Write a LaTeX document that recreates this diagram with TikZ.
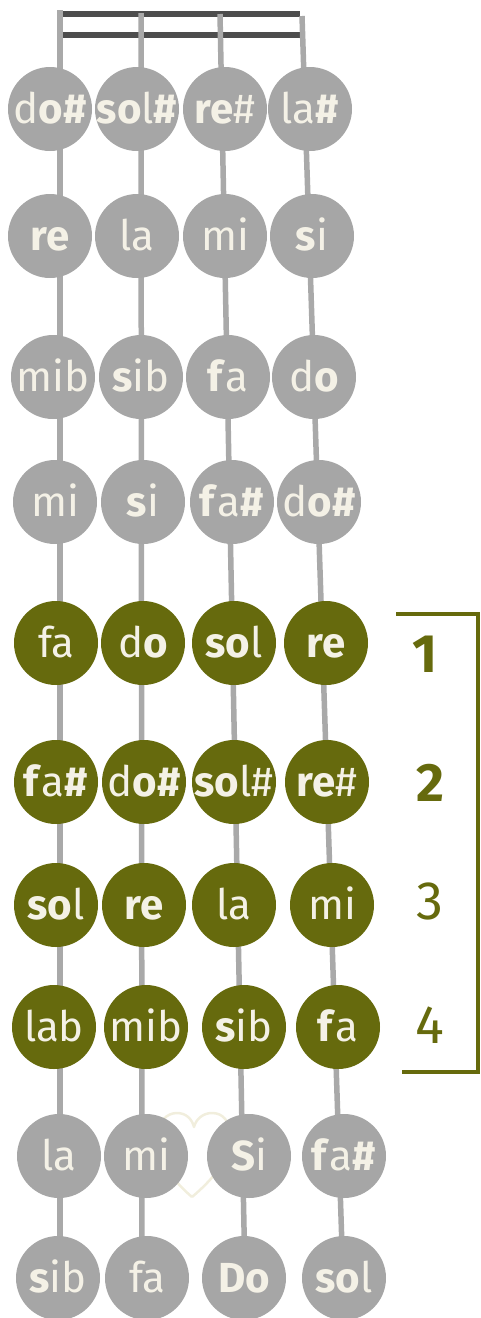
\documentclass[tikz,border=0pt]{standalone}
\usepackage{fontspec}
\setmainfont{Fira Sans}
\definecolor{notegray}{HTML}{A6A6A6}
\definecolor{stringgray}{HTML}{A9A9A9}
\definecolor{nutgray}{HTML}{4D4D4D}
\definecolor{fret}{HTML}{666A0D}
\definecolor{cream}{HTML}{F4F1E6}
\definecolor{heartc}{HTML}{F1EEDD}
\newcommand{\bl}[1]{\textbf{#1}}
\tikzset{
  note/.style={circle, minimum size=84pt, inner sep=0pt, draw=none},
  gnote/.style={note, fill=notegray},
  onote/.style={note, fill=fret},
  lab/.style={anchor=base, text=cream, inner sep=0pt, font=\fontsize{42}{42}\selectfont},
  stringline/.style={draw=stringgray, line width=5.5pt},
  nutline/.style={draw=nutgray, line width=6pt},
  finger/.style={text=fret, inner sep=0pt, font=\fontsize{54}{54}\selectfont},
}
\newcommand{\notenode}[5]{\node[#2] (#1) at (#3,#4) {};
  \node[lab] (#1t) at ([yshift=-14pt]#1.center) {#5};}
\begin{document}
\begin{tikzpicture}[x=1pt,y=-1pt]
\useasboundingbox (0,0) rectangle (480,1318);
% heart
\draw[heartc, line width=2.5pt, line join=round]
  (192,1197) .. controls (172,1180) and (158,1160) .. (158,1136)
  .. controls (158,1121) and (167,1113) .. (177,1113)
  .. controls (186,1113) and (192,1119) .. (194,1127)
  .. controls (196,1119) and (203,1113) .. (212,1113)
  .. controls (223,1113) and (230,1121) .. (230,1136)
  .. controls (230,1160) and (212,1180) .. (192,1197);
% nut
\coordinate (nA) at (63,14); \coordinate (nB) at (300,14);
\coordinate (nC) at (63,35); \coordinate (nD) at (300,35);
\draw[nutline] (nA) -- (nB);
\draw[nutline] (nC) -- (nD);
% strings
\coordinate (s1t) at (60,10);  \coordinate (s1b) at (60,1278);
\coordinate (s2t) at (141,13); \coordinate (s2b) at (142,1278);
\coordinate (s3t) at (220,14); \coordinate (s3b) at (245,1278);
\coordinate (s4t) at (302,16); \coordinate (s4b) at (343,1278);
\draw[stringline] (s1t) -- (s1b);
\draw[stringline] (s2t) -- (s2b);
\draw[stringline] (s3t) -- (s3b);
\draw[stringline] (s4t) -- (s4b);
% row 1
\notenode{a1}{gnote}{50}{109}{d\bl{o\#}}
\notenode{a2}{gnote}{137}{109}{\bl{so}l\bl{\#}}
\notenode{a3}{gnote}{225}{109}{\bl{re}\#}
\notenode{a4}{gnote}{310}{109}{la\bl{\#}}
% row 2
\notenode{b1}{gnote}{50}{236}{\bl{re}}
\notenode{b2}{gnote}{137}{236}{la}
\notenode{b3}{gnote}{225}{236}{mi}
\notenode{b4}{gnote}{312}{236}{\bl{s}i}
% row 3
\notenode{c1}{gnote}{53}{377}{mib}
\notenode{c2}{gnote}{141}{377}{\bl{s}ib}
\notenode{c3}{gnote}{228}{377}{\bl{f}a}
\notenode{c4}{gnote}{314}{377}{d\bl{o}}
% row 4
\notenode{d1}{gnote}{55}{502}{mi}
\notenode{d2}{gnote}{143}{502}{\bl{s}i}
\notenode{d3}{gnote}{232}{502}{\bl{f}a\bl{\#}}
\notenode{d4}{gnote}{319}{502}{d\bl{o\#}}
% row 5
\notenode{e1}{onote}{56}{643}{fa}
\notenode{e2}{onote}{143}{643}{d\bl{o}}
\notenode{e3}{onote}{234}{643}{\bl{so}l}
\notenode{e4}{onote}{326}{643}{\bl{re}}
% row 6
\notenode{f1}{onote}{56}{782}{\bl{f}a\bl{\#}}
\notenode{f2}{onote}{144}{782}{d\bl{o\#}}
\notenode{f3}{onote}{234}{782}{\bl{so}l\#}
\notenode{f4}{onote}{327}{782}{\bl{re}\#}
% row 7
\notenode{g1}{onote}{56}{905}{\bl{so}l}
\notenode{g2}{onote}{144}{905}{\bl{re}}
\notenode{g3}{onote}{234}{905}{la}
\notenode{g4}{onote}{332}{905}{mi}
% row 8
\notenode{h1}{onote}{54}{1027}{lab}
\notenode{h2}{onote}{146}{1027}{mib}
\notenode{h3}{onote}{244}{1027}{\bl{s}ib}
\notenode{h4}{onote}{338}{1027}{\bl{f}a}
% row 9
\notenode{i1}{gnote}{59}{1156}{la}
\notenode{i2}{gnote}{146}{1156}{mi}
\notenode{i3}{gnote}{249}{1156}{\bl{S}i}
\notenode{i4}{gnote}{344}{1156}{\bl{f}a\bl{\#}}
% row 10
\notenode{j1}{gnote}{58}{1278}{\bl{s}ib}
\notenode{j2}{gnote}{147}{1278}{fa}
\notenode{j3}{gnote}{244}{1278}{\bl{Do}}
\notenode{j4}{gnote}{344}{1278}{\bl{so}l}
% bracket
\coordinate (k1) at (396,614); \coordinate (k2) at (478,614);
\coordinate (k3) at (478,1072); \coordinate (k4) at (402,1072);
\draw[fret, line width=4.5pt, line join=miter] (k1) -- (k2) -- (k3) -- (k4);
% finger numbers
\node[finger] (n1) at (425,654) {\bl{1}};
\node[finger] (n2) at (430,783) {\bl{2}};
\node[finger] (n3) at (430,901) {3};
\node[finger] (n4) at (430,1025) {4};
\end{tikzpicture}
\end{document}
